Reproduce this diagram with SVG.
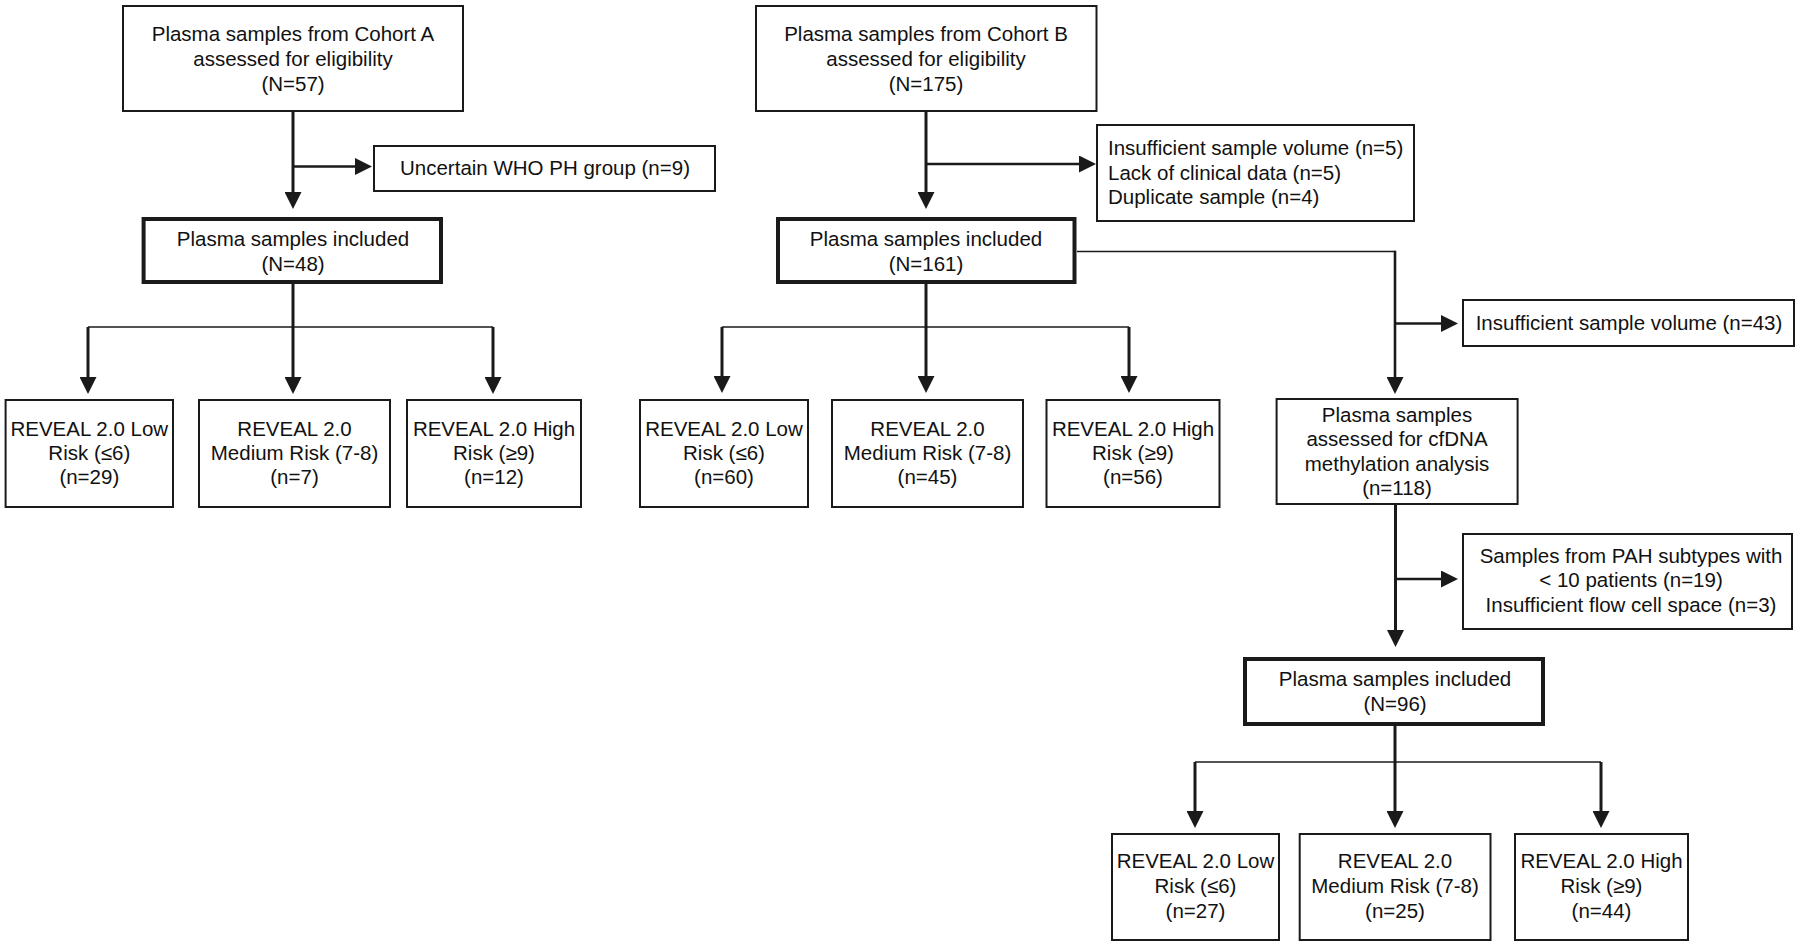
<svg xmlns="http://www.w3.org/2000/svg" width="1800" height="946" viewBox="0 0 1800 946">
<defs>
<style>
.box{fill:#fff;stroke:#1a1a1a;stroke-width:2}
.tbox{fill:#fff;stroke:#1a1a1a;stroke-width:4}
text{font-family:"Liberation Sans",Arial,sans-serif;font-size:20.5px;fill:#111}
.c{text-anchor:middle}
.l{text-anchor:start}
.v{fill:none;stroke:#1a1a1a;stroke-width:3}
.h{fill:none;stroke:#1a1a1a;stroke-width:1.6}
.b{fill:none;stroke:#1a1a1a;stroke-width:2.6}
</style>
<marker id="ah" viewBox="0 0 17 17" refX="0" refY="8.5" markerWidth="17" markerHeight="17" markerUnits="userSpaceOnUse" orient="auto">
<path d="M0,0 L17,8.5 L0,17 z" fill="#1a1a1a"/>
</marker>
</defs>
<rect width="1800" height="946" fill="#fff"/>
<g id="connectors">
<path class="v" d="M293,112 V192" marker-end="url(#ah)"/>
<path class="b" d="M293,166.5 H355" marker-end="url(#ah)"/>
<path class="v" d="M293,284 V377" marker-end="url(#ah)"/>
<path class="h" d="M88,327 H493"/>
<path class="v" d="M88,327 V377" marker-end="url(#ah)"/>
<path class="v" d="M493,327 V377" marker-end="url(#ah)"/>
<path class="v" d="M926,112 V192" marker-end="url(#ah)"/>
<path class="b" d="M926,164 H1079" marker-end="url(#ah)"/>
<path class="v" d="M926,284 V376" marker-end="url(#ah)"/>
<path class="h" d="M722,327 H1129"/>
<path class="v" d="M722,327 V376" marker-end="url(#ah)"/>
<path class="v" d="M1129,327 V376" marker-end="url(#ah)"/>
<path class="h" d="M1077,251.5 H1395"/>
<path class="b" d="M1395,250.7 V377" marker-end="url(#ah)"/>
<path class="b" d="M1395,323.5 H1441" marker-end="url(#ah)"/>
<path class="v" d="M1395.5,505 V630" marker-end="url(#ah)"/>
<path class="b" d="M1395.5,579 H1441" marker-end="url(#ah)"/>
<path class="v" d="M1395,726 V811" marker-end="url(#ah)"/>
<path class="h" d="M1195,762 H1601"/>
<path class="v" d="M1195,762 V811" marker-end="url(#ah)"/>
<path class="v" d="M1601,762 V811" marker-end="url(#ah)"/>
</g>
<g id="cohortA">
<rect class="box" x="123" y="6" width="340" height="105"/>
<text class="c" x="293" y="41">Plasma samples from Cohort A</text>
<text class="c" x="293" y="66">assessed for eligibility</text>
<text class="c" x="293" y="91">(N=57)</text>
</g>
<g id="excludedA">
<rect class="box" x="374" y="146" width="341" height="45"/>
<text class="c" x="545" y="175">Uncertain WHO PH group (n=9)</text>
</g>
<g id="includedA">
<rect class="tbox" x="143.6" y="219" width="297.4" height="63"/>
<text class="c" x="293" y="246">Plasma samples included</text>
<text class="c" x="293" y="271">(N=48)</text>
</g>
<g id="lowA">
<rect class="box" x="5.6" y="400" width="167.4" height="107"/>
<text class="c" x="89.3" y="436">REVEAL 2.0 Low</text>
<text class="c" x="89.3" y="460">Risk (≤6)</text>
<text class="c" x="89.3" y="484">(n=29)</text>
</g>
<g id="medA">
<rect class="box" x="199" y="400" width="191" height="107"/>
<text class="c" x="294.5" y="436">REVEAL 2.0</text>
<text class="c" x="294.5" y="460">Medium Risk (7-8)</text>
<text class="c" x="294.5" y="484">(n=7)</text>
</g>
<g id="highA">
<rect class="box" x="407" y="400" width="174" height="107"/>
<text class="c" x="494" y="436">REVEAL 2.0 High</text>
<text class="c" x="494" y="460">Risk (≥9)</text>
<text class="c" x="494" y="484">(n=12)</text>
</g>
<g id="cohortB">
<rect class="box" x="756" y="6" width="340.5" height="105"/>
<text class="c" x="926" y="41">Plasma samples from Cohort B</text>
<text class="c" x="926" y="66">assessed for eligibility</text>
<text class="c" x="926" y="91">(N=175)</text>
</g>
<g id="excludedB">
<rect class="box" x="1097" y="125" width="317" height="96"/>
<text class="l" x="1108" y="155">Insufficient sample volume (n=5)</text>
<text class="l" x="1108" y="180">Lack of clinical data (n=5)</text>
<text class="l" x="1108" y="204">Duplicate sample (n=4)</text>
</g>
<g id="includedB">
<rect class="tbox" x="778" y="219" width="296.5" height="63"/>
<text class="c" x="926" y="246">Plasma samples included</text>
<text class="c" x="926" y="271">(N=161)</text>
</g>
<g id="lowB">
<rect class="box" x="640" y="400" width="168" height="107"/>
<text class="c" x="724" y="436">REVEAL 2.0 Low</text>
<text class="c" x="724" y="460">Risk (≤6)</text>
<text class="c" x="724" y="484">(n=60)</text>
</g>
<g id="medB">
<rect class="box" x="832" y="400" width="191" height="107"/>
<text class="c" x="927.5" y="436">REVEAL 2.0</text>
<text class="c" x="927.5" y="460">Medium Risk (7-8)</text>
<text class="c" x="927.5" y="484">(n=45)</text>
</g>
<g id="highB">
<rect class="box" x="1046.5" y="400" width="173" height="107"/>
<text class="c" x="1133" y="436">REVEAL 2.0 High</text>
<text class="c" x="1133" y="460">Risk (≥9)</text>
<text class="c" x="1133" y="484">(n=56)</text>
</g>
<g id="excluded43">
<rect class="box" x="1463" y="300" width="331" height="46"/>
<text class="c" x="1629" y="330">Insufficient sample volume (n=43)</text>
</g>
<g id="cfdna">
<rect class="box" x="1276.6" y="399" width="241" height="105"/>
<text class="c" x="1397" y="422">Plasma samples</text>
<text class="c" x="1397" y="446">assessed for cfDNA</text>
<text class="c" x="1397" y="471">methylation analysis</text>
<text class="c" x="1397" y="495">(n=118)</text>
</g>
<g id="excludedPAH">
<rect class="box" x="1463" y="534" width="329" height="95"/>
<text class="c" x="1631" y="563">Samples from PAH subtypes with</text>
<text class="c" x="1631" y="587">&lt; 10 patients (n=19)</text>
<text class="c" x="1631" y="612">Insufficient flow cell space (n=3)</text>
</g>
<g id="includedC">
<rect class="tbox" x="1245" y="659" width="298" height="65"/>
<text class="c" x="1395" y="686">Plasma samples included</text>
<text class="c" x="1395" y="711">(N=96)</text>
</g>
<g id="lowC">
<rect class="box" x="1112" y="834" width="167" height="106"/>
<text class="c" x="1195.5" y="868">REVEAL 2.0 Low</text>
<text class="c" x="1195.5" y="893">Risk (≤6)</text>
<text class="c" x="1195.5" y="918">(n=27)</text>
</g>
<g id="medC">
<rect class="box" x="1299.7" y="834" width="190.8" height="106"/>
<text class="c" x="1395" y="868">REVEAL 2.0</text>
<text class="c" x="1395" y="893">Medium Risk (7-8)</text>
<text class="c" x="1395" y="918">(n=25)</text>
</g>
<g id="highC">
<rect class="box" x="1515" y="834" width="173" height="106"/>
<text class="c" x="1601.5" y="868">REVEAL 2.0 High</text>
<text class="c" x="1601.5" y="893">Risk (≥9)</text>
<text class="c" x="1601.5" y="918">(n=44)</text>
</g>
</svg>
